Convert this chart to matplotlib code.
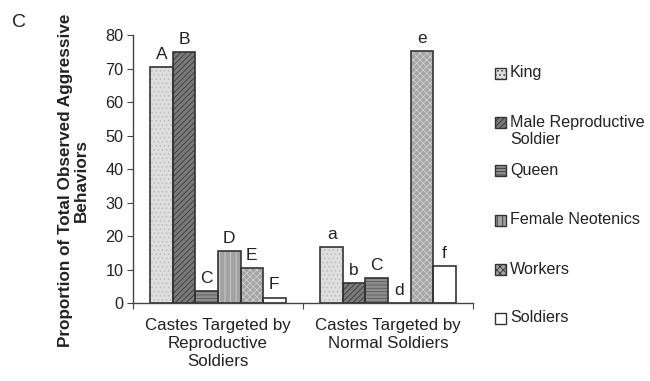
import matplotlib
matplotlib.use("Agg")
import matplotlib.pyplot as plt
import matplotlib.patches as mpatches
import numpy as np

plt.rcParams['font.family'] = ['Liberation Sans', 'DejaVu Sans']
plt.rcParams['hatch.linewidth'] = 0.6

groups = ["Castes Targeted by\nReproductive\nSoldiers", "Castes Targeted by\nNormal Soldiers"]
castes = ["King", "Male Reproductive\nSoldier", "Queen", "Female Neotenics", "Workers", "Soldiers"]
reproductive = [70.4, 74.9, 3.6, 15.5, 10.4, 1.6]
normal = [16.7, 6.0, 7.5, 0.0, 75.2, 11.0]
letters_repro = ["A", "B", "C", "D", "E", "F"]
letters_normal = ["a", "b", "C", "d", "e", "f"]
y_ticks = [0, 10, 20, 30, 40, 50, 60, 70, 80]

face = ["#dedede", "#7a7a7a", "#8e8e8e", "#a2a2a2", "#a4a4a4", "#ffffff"]
hatches = ["....", "//////", "-----", "|||", "xxxxx", ""]
hatch_col = ["#bdbdbd", "#3a3a3a", "#5a5a5a", "#d0d0d0", "#cfcfcf", "#ffffff"]
TXT = "#222222"

fig = plt.figure(figsize=(6.5, 3.81), dpi=100)
ax = fig.add_axes([0.2046, 0.2047, 0.5231, 0.7033])

w = 0.1325
x = np.arange(len(groups))
for i in range(len(castes)):
    vals = [reproductive[i], normal[i]]
    pos = x + (i - 2.5) * w
    ax.bar(pos, vals, width=w, facecolor=face[i], edgecolor=hatch_col[i],
           hatch=hatches[i], linewidth=0, zorder=2)
    ax.bar(pos, vals, width=w, facecolor="none", edgecolor="#333333",
           linewidth=1.2, zorder=3)
    for j, lbls in enumerate([letters_repro, letters_normal]):
        ax.text(pos[j], vals[j] + 2.5, lbls[i], ha="center", va="baseline",
                fontsize=12.5, color=TXT)

ax.set_xlim(-0.5, 1.5)
ax.set_ylim(0, 80)
ax.set_yticks(y_ticks)
ax.set_xticks([-0.5, 0.5, 1.5], minor=False)
ax.set_xticklabels([])
ax.set_xticks(x, minor=True)
ax.set_xticklabels(groups, minor=True, fontsize=12.2, color=TXT, linespacing=1.22)
ax.tick_params(axis="x", which="minor", length=0, pad=11)
ax.tick_params(axis="x", which="major", length=4, color="#444444")
ax.tick_params(axis="y", length=4, labelsize=11.7, colors=TXT, color="#444444", pad=3)
for s in ["top", "right"]:
    ax.spines[s].set_visible(False)
for s in ["left", "bottom"]:
    ax.spines[s].set_color("#444444")
    ax.spines[s].set_linewidth(1.0)

ax.set_ylabel("Proportion of Total Observed Aggressive\nBehaviors", fontsize=12.3,
              fontweight="bold", color=TXT, linespacing=1.05)
ax.yaxis.set_label_coords(-0.13, 0.457)

# legend (Excel-style slots)
slot_top = 73
slot_step = 49
W, H = 650.0, 381.0
for i in range(len(castes)):
    yc = slot_top + i * slot_step
    rect = mpatches.Rectangle((495 / W, 1 - (yc + 5.5) / H), 11 / W, 11 / H,
                              transform=fig.transFigure, facecolor=face[i],
                              edgecolor="#333333", hatch=hatches[i], linewidth=1.0)
    fig.add_artist(rect)
    fig.text(510 / W, 1 - (yc - 7.5) / H, castes[i], fontsize=11.6, color=TXT,
             ha="left", va="top", linespacing=1.2)

fig.text(0.018, 0.94, "C", fontsize=14, color=TXT, va="center")

fig.savefig("out.png", dpi=100)
